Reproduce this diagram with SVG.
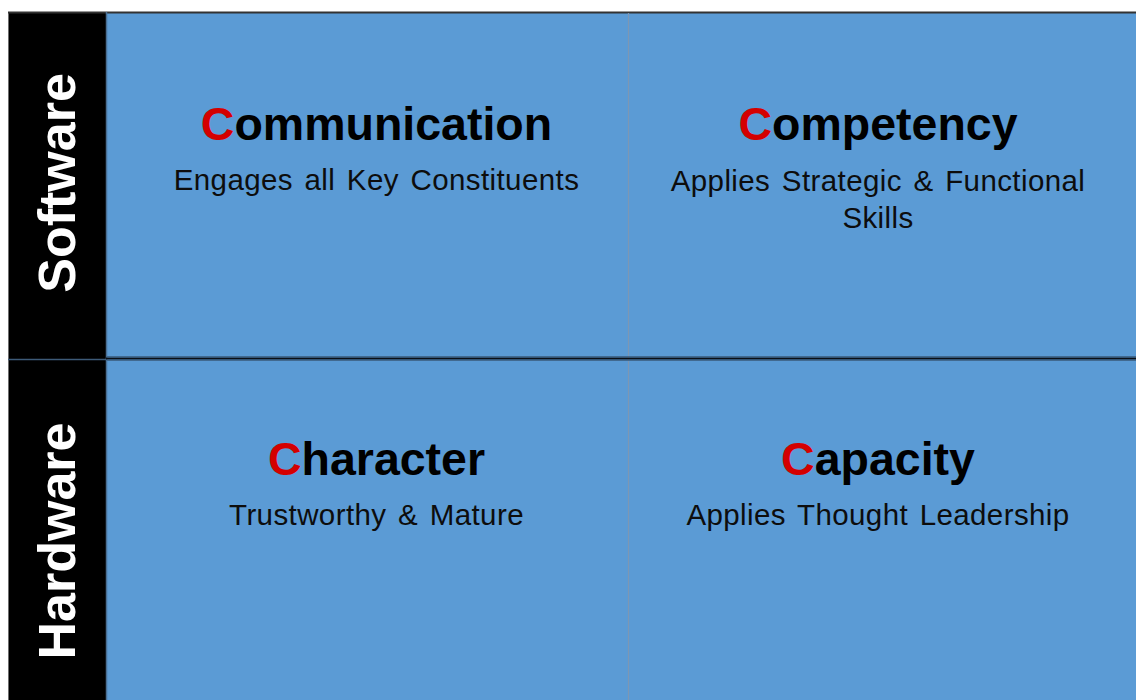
<svg xmlns="http://www.w3.org/2000/svg" width="1136" height="700" viewBox="0 0 1136 700">
<style>
.title{font-family:"Liberation Sans",Arial,sans-serif;font-weight:bold;font-size:46.5px;fill:#000;text-anchor:middle}
.red{fill:#D40000}
.sub{font-family:"Liberation Sans",Arial,sans-serif;font-size:29.5px;fill:#0d0d0d;text-anchor:middle;word-spacing:3px;letter-spacing:0.4px}
.side{font-family:"Liberation Sans",Arial,sans-serif;font-weight:bold;font-size:52px;fill:#fff;text-anchor:middle}
.cell{fill:#5B9BD5}
</style>
<rect x="0" y="0" width="1136" height="700" fill="#fff"/>
<g id="side-column">
<rect x="8" y="12" width="98" height="688" fill="#000"/>
<line x1="8.5" y1="12" x2="8.5" y2="700" stroke="#6e6e6e" stroke-width="1"/>
<line x1="8" y1="359.5" x2="106" y2="359.5" stroke="#3d5a78" stroke-width="1.5"/>
</g>
<g id="cell-communication">
<rect class="cell" x="106" y="12" width="522" height="347"/>
<text class="title" x="376.5" y="140"><tspan class="red">C</tspan>ommunication</text>
<text class="sub" x="376.5" y="190">Engages all Key Constituents</text>
</g>
<g id="cell-competency">
<rect class="cell" x="628" y="12" width="508" height="347"/>
<text class="title" x="878" y="140"><tspan class="red">C</tspan>ompetency</text>
<text class="sub" x="878" y="191">Applies Strategic &amp; Functional</text>
<text class="sub" x="878" y="228">Skills</text>
</g>
<g id="cell-character">
<rect class="cell" x="106" y="359" width="522" height="341"/>
<text class="title" x="376.5" y="475"><tspan class="red">C</tspan>haracter</text>
<text class="sub" x="376.5" y="525">Trustworthy &amp; Mature</text>
</g>
<g id="cell-capacity">
<rect class="cell" x="628" y="359" width="508" height="341"/>
<text class="title" x="878" y="475"><tspan class="red">C</tspan>apacity</text>
<text class="sub" x="878" y="525">Applies Thought Leadership</text>
</g>
<g id="label-software">
<text class="side" transform="translate(75,183) rotate(-90)">Software</text>
</g>
<g id="label-hardware">
<text class="side" transform="translate(75,541) rotate(-90)">Hardware</text>
</g>
<g id="connectors">
<line x1="8" y1="12.5" x2="1136" y2="12.5" stroke="#333" stroke-width="2"/>
<line x1="106.5" y1="12" x2="106.5" y2="700" stroke="#4a6f94" stroke-width="1.5"/>
<line x1="628.5" y1="13" x2="628.5" y2="700" stroke="#7d97b3" stroke-width="1.2"/>
<line x1="106" y1="358.5" x2="1136" y2="358.5" stroke="#0a0f16" stroke-width="2"/>
<line x1="106" y1="356.5" x2="1136" y2="356.5" stroke="#41698f" stroke-width="1"/>
<line x1="106" y1="360.5" x2="1136" y2="360.5" stroke="#41698f" stroke-width="1"/>
</g>
</svg>
